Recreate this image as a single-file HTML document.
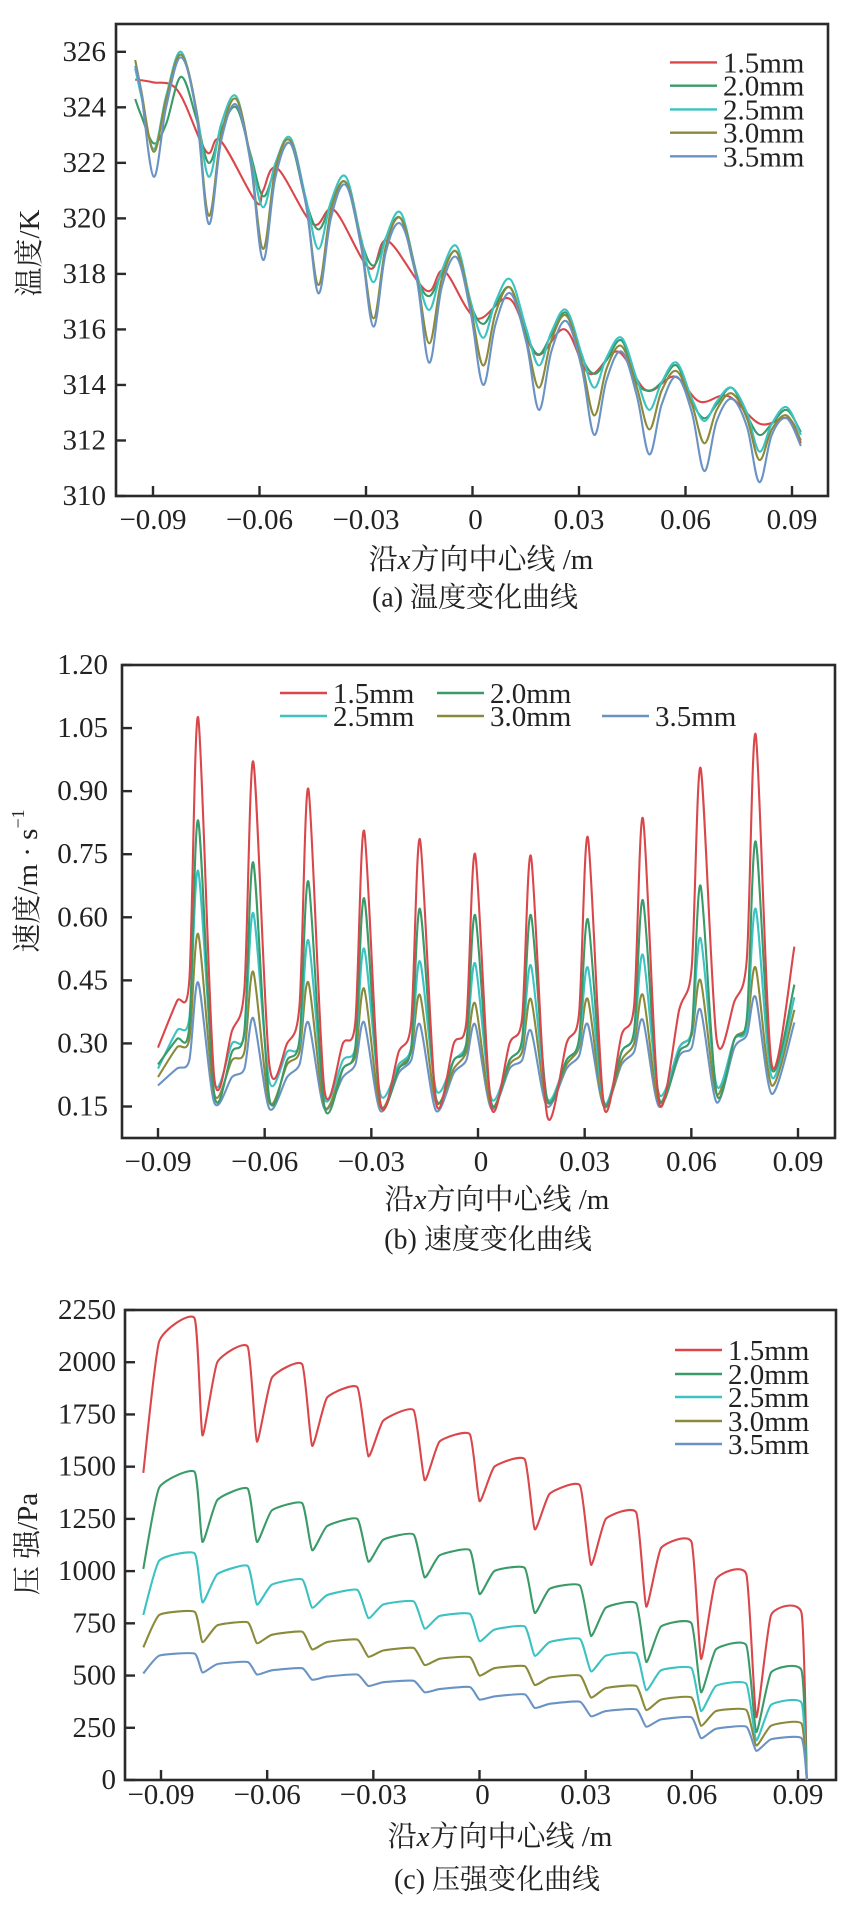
<!DOCTYPE html>
<html><head><meta charset="utf-8"><style>
html,body{margin:0;padding:0;background:#fff;}
svg{display:block;}
svg text{font-family:"Liberation Serif","Noto Serif CJK SC",serif;}
</style></head><body>
<svg id="fig" width="843" height="1908" viewBox="0 0 843 1908" xmlns="http://www.w3.org/2000/svg"></svg>
<script>
// ---------- shared ----------
const seriesNames = ["1.5mm","2.0mm","2.5mm","3.0mm","3.5mm"];
const seriesColors = ["#d9474b","#3a9a68","#3cc2c2","#8a8a3a","#6a93c4"];

// ---------- chart (a) temperature ----------
const aDips = [-0.0898,-0.0743,-0.0590,-0.0434,-0.0279,-0.0122,0.0030,0.0187,0.0343,0.0498,0.0653,0.0808];
const aBlue  = [325.5, 324.5,321.5,324.0,325.8, 323.8,319.8,322.8,324.1, 322.0,318.5,321.5,322.7, 320.5,317.3,320.0,321.2, 319.0,316.1,318.8,319.8, 317.8,314.8,317.5,318.6, 316.6,314.0,316.2,317.3, 315.5,313.1,315.2,316.3, 314.6,312.2,314.2,315.2, 313.6,311.5,313.3,314.3, 313.0,310.9,312.7,313.5, 312.5,310.5,312.2,312.8, 311.8];
const aKhaki = [325.7, 324.6,322.4,324.3,325.9, 323.9,320.1,323.0,324.3, 322.1,318.9,321.8,322.8, 320.5,317.6,320.3,321.3, 319.1,316.4,319.0,320.0, 317.9,315.5,317.8,318.8, 316.8,314.7,316.6,317.5, 315.6,313.9,315.6,316.5, 314.8,312.9,314.6,315.4, 313.9,312.4,313.8,314.5, 313.3,311.9,313.1,313.7, 312.8,311.3,312.4,312.9, 312.0];
const aCyan  = [325.4, 324.4,322.5,324.4,326.0, 323.9,321.5,323.4,324.4, 322.2,320.4,322.0,322.9, 320.7,318.9,320.6,321.5, 319.3,317.7,319.3,320.2, 318.0,316.7,318.1,319.0, 317.0,315.7,317.0,317.8, 316.0,314.7,315.9,316.7, 315.1,313.9,315.0,315.7, 314.2,313.1,314.1,314.8, 313.5,312.7,313.4,313.9, 313.0,311.6,312.6,313.2, 312.2];
const aGreen = [324.3, 323.7,322.7,323.4,325.1, 323.6,322.0,323.2,324.0, 322.3,320.8,321.8,322.7, 320.6,319.6,320.5,321.3, 319.2,318.3,319.3,320.0, 317.9,317.2,318.0,318.8, 316.9,316.2,316.9,317.5, 315.8,315.1,315.8,316.6, 315.0,314.4,314.9,315.6, 314.1,313.8,314.1,314.7, 313.4,312.8,313.3,313.9, 312.9,312.2,312.6,313.1, 312.3];
const aRedX = [-0.095,-0.090,-0.083,-0.075,-0.071,-0.061,-0.059,-0.055,-0.045,-0.039,-0.029,-0.024,-0.013,-0.008,0.001,0.0105,0.018,0.026,0.033,0.041,0.049,0.057,0.064,0.072,0.081,0.089,0.0925];
const aRed  = [325.0,324.9,324.6,322.4,322.8,320.6,321.0,321.8,319.8,320.3,318.2,319.2,317.4,318.1,316.4,317.1,315.1,316.0,314.4,315.2,313.8,314.3,313.4,313.6,312.6,312.8,311.9];
const aYTicks = [310,312,314,316,318,320,322,324,326];
const aXTicks = [-0.09,-0.06,-0.03,0,0.03,0.06,0.09];
const aXLabels = ["−0.09","−0.06","−0.03","0","0.03","0.06","0.09"];

// ---------- chart (b) velocity ----------
const bPeaks = [-0.0787,-0.0632,-0.0477,-0.0320,-0.0163,-0.0008,0.0149,0.0309,0.0464,0.0626,0.0781];
const bRedStart=0.29, bRedEnd=0.53;
const bRedPre  = [0.40,0.33,0.30,0.30,0.28,0.30,0.30,0.30,0.32,0.38,0.40];
const bRedSh   = [0.45,0.43,0.39,0.35,0.35,0.35,0.36,0.37,0.39,0.48,0.50];
const bRedPk   = [1.075,0.97,0.905,0.805,0.785,0.75,0.745,0.79,0.835,0.955,1.035];
const bRedMin  = [0.22,0.25,0.19,0.16,0.16,0.15,0.13,0.15,0.16,0.31,0.25];
const bGreenStart=0.25, bGreenEnd=0.44;
const bGreenPre = [0.31,0.28,0.26,0.24,0.24,0.26,0.26,0.26,0.28,0.28,0.31];
const bGreenSh  = [0.34,0.33,0.31,0.29,0.29,0.30,0.31,0.31,0.33,0.33,0.36];
const bGreenPk  = [0.83,0.73,0.685,0.645,0.62,0.605,0.605,0.595,0.64,0.675,0.78];
const bGreenMin = [0.18,0.17,0.15,0.16,0.17,0.16,0.17,0.16,0.17,0.18,0.24];
const bCyanStart=0.24, bCyanEnd=0.41;
const bCyanPre = [0.33,0.30,0.28,0.26,0.25,0.26,0.26,0.26,0.28,0.29,0.31];
const bCyanSh  = [0.36,0.32,0.30,0.29,0.29,0.30,0.30,0.30,0.32,0.33,0.34];
const bCyanPk  = [0.71,0.61,0.545,0.525,0.495,0.49,0.485,0.48,0.51,0.55,0.62];
const bCyanMin = [0.21,0.21,0.17,0.18,0.19,0.17,0.17,0.16,0.18,0.20,0.22];
const bKhakiStart=0.22, bKhakiEnd=0.38;
const bKhakiPre = [0.29,0.26,0.25,0.24,0.24,0.24,0.25,0.25,0.26,0.29,0.31];
const bKhakiSh  = [0.31,0.28,0.28,0.27,0.28,0.28,0.28,0.29,0.30,0.32,0.34];
const bKhakiPk  = [0.56,0.47,0.445,0.43,0.415,0.395,0.405,0.405,0.415,0.45,0.48];
const bKhakiMin = [0.18,0.16,0.15,0.15,0.16,0.15,0.16,0.15,0.16,0.18,0.20];
const bBlueStart=0.20, bBlueEnd=0.35;
const bBluePre = [0.24,0.22,0.22,0.22,0.23,0.23,0.24,0.24,0.25,0.27,0.29];
const bBlueSh  = [0.26,0.24,0.25,0.25,0.26,0.26,0.26,0.27,0.28,0.29,0.32];
const bBluePk  = [0.445,0.36,0.35,0.35,0.345,0.345,0.33,0.345,0.355,0.38,0.41];
const bBlueMin = [0.16,0.145,0.145,0.14,0.14,0.145,0.15,0.15,0.15,0.16,0.18];
const bYTicks = [0.15,0.30,0.45,0.60,0.75,0.90,1.05,1.20];
const bYLabels = ["0.15","0.30","0.45","0.60","0.75","0.90","1.05","1.20"];

// ---------- chart (c) pressure ----------
const cDips = [-0.0783,-0.0629,-0.0473,-0.0314,-0.0155,0.0,0.0156,0.0315,0.0471,0.0626,0.0782];
const cRedHead = [1470,2100,2210];
const cRedDip  = [1650,1620,1600,1550,1435,1335,1200,1030,830,580,300];
const cRedPlat = [2000,1925,1830,1720,1620,1500,1370,1250,1110,960,790];
const cRedPeak = [2075,1990,1880,1770,1655,1535,1410,1280,1140,985,800];
const cGreenHead = [1010,1400,1475];
const cGreenDip  = [1140,1140,1100,1045,970,890,800,690,565,420,230];
const cGreenPlat = [1340,1290,1215,1150,1075,1000,915,825,735,625,515];
const cGreenPeak = [1395,1325,1250,1175,1100,1015,930,845,750,645,525];
const cCyanHead = [790,1050,1085];
const cCyanDip  = [850,840,825,775,725,665,595,520,430,330,190];
const cCyanPlat = [985,935,885,840,785,720,660,595,525,450,360];
const cCyanPeak = [1025,960,910,855,795,735,675,605,535,460,370];
const cKhakiHead = [635,790,805];
const cKhakiDip  = [660,655,625,590,550,500,455,395,335,260,165];
const cKhakiPlat = [740,695,660,620,580,535,490,440,385,330,260];
const cKhakiPeak = [755,710,672,632,588,545,500,450,395,335,270];
const cBlueHead = [510,595,605];
const cBlueDip  = [515,505,480,450,420,385,345,305,255,200,140];
const cBluePlat = [555,525,495,468,435,400,365,330,290,245,195];
const cBluePeak = [565,535,505,475,445,410,375,338,300,255,200];
const cEnd = 0;
const cYTicks = [0,250,500,750,1000,1250,1500,1750,2000,2250];

// ---------- helpers ----------
const NS="http://www.w3.org/2000/svg";
const svg=document.getElementById('fig');
function mk(tag,attrs,parent){const e=document.createElementNS(NS,tag);for(const k in attrs)e.setAttribute(k,attrs[k]);(parent||svg).appendChild(e);return e;}
function lin(d0,d1,r0,r1){return v=>r0+(v-d0)*(r1-r0)/(d1-d0);}
function smoothPath(pts,t){
  let d=`M${pts[0][0].toFixed(1)},${pts[0][1].toFixed(1)}`;
  for(let i=0;i<pts.length-1;i++){
    const p0=pts[Math.max(0,i-1)],p1=pts[i],p2=pts[i+1],p3=pts[Math.min(pts.length-1,i+2)];
    const c1=[p1[0]+(p2[0]-p0[0])*t,p1[1]+(p2[1]-p0[1])*t];
    const c2=[p2[0]-(p3[0]-p1[0])*t,p2[1]-(p3[1]-p1[1])*t];
    d+=`C${c1[0].toFixed(1)},${c1[1].toFixed(1)} ${c2[0].toFixed(1)},${c2[1].toFixed(1)} ${p2[0].toFixed(1)},${p2[1].toFixed(1)}`;
  }
  return d;
}
const FF='"Liberation Serif","Noto Serif CJK SC",serif';
function drawFrame(c){
  const g=mk('g',{});
  
  
  mk('rect',{x:c.L,y:c.T,width:c.R-c.L,height:c.B-c.T,fill:'none',stroke:'#2a2a2a','stroke-width':2.6},g);
  c.yTicks.forEach((v,i)=>{
    const y=c.sy(v);
    mk('line',{x1:c.L,x2:c.L+10,y1:y,y2:y,stroke:'#2a2a2a','stroke-width':2.4},g);
    const t=mk('text',{x:c.yLabX,y:y,'text-anchor':'end','dominant-baseline':'central','font-size':29,fill:'#222','font-family':FF},g);
    t.textContent=c.yLabels?c.yLabels[i]:String(v);
    
    
  });
  aXTicks.forEach((v,i)=>{
    const x=c.sx(v);
    mk('line',{x1:x,x2:x,y1:c.B,y2:c.B-10,stroke:'#2a2a2a','stroke-width':2.4},g);
    const t=mk('text',{x:x+(v===0?3:0),y:c.xLabY,'text-anchor':'middle','dominant-baseline':'central','font-size':29,fill:'#222','font-family':FF},g);
    t.textContent=aXLabels[i];
    
    
  });
  const xt=mk('text',{x:c.xTitleX,y:c.xTitleY,'text-anchor':'middle','dominant-baseline':'central','font-size':29,fill:'#222','font-family':FF});
  xt.innerHTML='沿<tspan font-style="italic">x</tspan>方向中心线 /m';
  
  
  const yt=mk('text',{x:0,y:0,transform:`translate(${c.yTitleX},${c.yTitleY}) rotate(-90)`,'text-anchor':'middle','dominant-baseline':'central','font-size':29,fill:'#222','font-family':FF});
  yt.innerHTML=c.yTitle;
  
  
  const cap=mk('text',{x:c.capX,y:c.capY,'text-anchor':'middle','dominant-baseline':'central','font-size':28,fill:'#222','font-family':FF});
  cap.textContent=c.caption;
  
  
}
function drawLine(c,xs,ys,color,name){
  const pts=xs.map((x,i)=>[c.sx(x),c.sy(ys[i])]);
  const p=mk('path',{d:smoothPath(pts,c.tension),fill:'none',stroke:color,'stroke-width':2.1,'stroke-linejoin':'round'});
  
  
}
function legendEntry(x,y,i,chartId){
  const g=mk('g',{});
  
  
  mk('line',{x1:x,x2:x+47,y1:y,y2:y,stroke:seriesColors[i],'stroke-width':2.4},g);
  const t=mk('text',{x:x+53,y:y+1,'dominant-baseline':'central','font-size':29,fill:'#222','font-family':FF},g);
  t.textContent=seriesNames[i];
}

// ---------- chart (a) ----------
(function(){
  const c={id:'temp',L:116,R:828,T:24,B:496,sx:lin(-0.09,0.09,153,792),sy:lin(310,326,496,51.8),tension:0.17,
    yTicks:aYTicks,yLabX:106,xLabY:520,xTitleX:481,xTitleY:560,yTitleX:30,yTitleY:253,
    yTitle:'温度/K',capX:475,capY:598,caption:'(a) 温度变化曲线'};
  drawFrame(c);
  const xs=[-0.095];
  aDips.forEach(d=>{xs.push(d-0.0035,d,d+0.0035,d+0.0077);});
  xs.push(0.0925);
  drawLine(c,aRedX,aRed,seriesColors[0],'temp-line-1-5mm');
  drawLine(c,xs,aGreen,seriesColors[1],'temp-line-2-0mm');
  drawLine(c,xs,aCyan,seriesColors[2],'temp-line-2-5mm');
  drawLine(c,xs,aKhaki,seriesColors[3],'temp-line-3-0mm');
  drawLine(c,xs,aBlue,seriesColors[4],'temp-line-3-5mm');
  [62.4,85.7,109.4,132.7,156.3].forEach((y,i)=>legendEntry(670,y,i,'temp'));
})();

// ---------- chart (b) ----------
(function(){
  const c={id:'velocity',L:122,R:835,T:665,B:1138,sx:lin(-0.09,0.09,158,798),sy:lin(0.15,1.20,1106.5,665),tension:0.14,
    yTicks:bYTicks,yLabels:bYLabels,yLabX:108,xLabY:1162,xTitleX:497,xTitleY:1200,yTitleX:28,yTitleY:881,
    yTitle:'速度/m · s<tspan dy="-10" font-size="18">−1</tspan>',capX:488,capY:1240,caption:'(b) 速度变化曲线'};
  drawFrame(c);
  const xs=[-0.09];
  bPeaks.forEach(p=>{xs.push(p-0.006,p-0.0025,p,p+0.0045);});
  xs.push(0.089);
  function build(s,pre,sh,pk,mn,e){const ys=[s];pre.forEach((v,i)=>{ys.push(pre[i],sh[i],pk[i],mn[i]);});ys.push(e);return ys;}
  drawLine(c,xs,build(bBlueStart,bBluePre,bBlueSh,bBluePk,bBlueMin,bBlueEnd),seriesColors[4],'velocity-line-3-5mm');
  drawLine(c,xs,build(bKhakiStart,bKhakiPre,bKhakiSh,bKhakiPk,bKhakiMin,bKhakiEnd),seriesColors[3],'velocity-line-3-0mm');
  drawLine(c,xs,build(bCyanStart,bCyanPre,bCyanSh,bCyanPk,bCyanMin,bCyanEnd),seriesColors[2],'velocity-line-2-5mm');
  drawLine(c,xs,build(bGreenStart,bGreenPre,bGreenSh,bGreenPk,bGreenMin,bGreenEnd),seriesColors[1],'velocity-line-2-0mm');
  drawLine(c,xs,build(bRedStart,bRedPre,bRedSh,bRedPk,bRedMin,bRedEnd),seriesColors[0],'velocity-line-1-5mm');
  legendEntry(280,693,0,'velocity');
  legendEntry(437,693,1,'velocity');
  legendEntry(280,716,2,'velocity');
  legendEntry(437,716,3,'velocity');
  legendEntry(602,716,4,'velocity');
})();

// ---------- chart (c) ----------
(function(){
  const c={id:'pressure',L:125,R:836,T:1310,B:1780,sx:lin(-0.09,0.09,161,798),sy:lin(0,2250,1780,1310),tension:0.08,
    yTicks:cYTicks,yLabX:116,xLabY:1795,xTitleX:500,xTitleY:1837,yTitleX:28,yTitleY:1544,
    yTitle:'压 强/Pa',capX:497,capY:1880,caption:'(c) 压强变化曲线'};
  drawFrame(c);
  const xs=[-0.095,-0.0905,-0.0805];
  cDips.forEach(d=>{xs.push(d,d+0.0042,d+0.0128);});
  xs.push(0.0925);
  function build(h,dp,pl,pk){const ys=h.slice();dp.forEach((v,i)=>{ys.push(dp[i],pl[i],pk[i]);});ys.push(cEnd);return ys;}
  drawLine(c,xs,build(cRedHead,cRedDip,cRedPlat,cRedPeak),seriesColors[0],'pressure-line-1-5mm');
  drawLine(c,xs,build(cGreenHead,cGreenDip,cGreenPlat,cGreenPeak),seriesColors[1],'pressure-line-2-0mm');
  drawLine(c,xs,build(cCyanHead,cCyanDip,cCyanPlat,cCyanPeak),seriesColors[2],'pressure-line-2-5mm');
  drawLine(c,xs,build(cKhakiHead,cKhakiDip,cKhakiPlat,cKhakiPeak),seriesColors[3],'pressure-line-3-0mm');
  drawLine(c,xs,build(cBlueHead,cBlueDip,cBluePlat,cBluePeak),seriesColors[4],'pressure-line-3-5mm');
  [1350,1374,1397,1421,1444].forEach((y,i)=>legendEntry(675,y,i,'pressure'));
})();
</script>
</body></html>
